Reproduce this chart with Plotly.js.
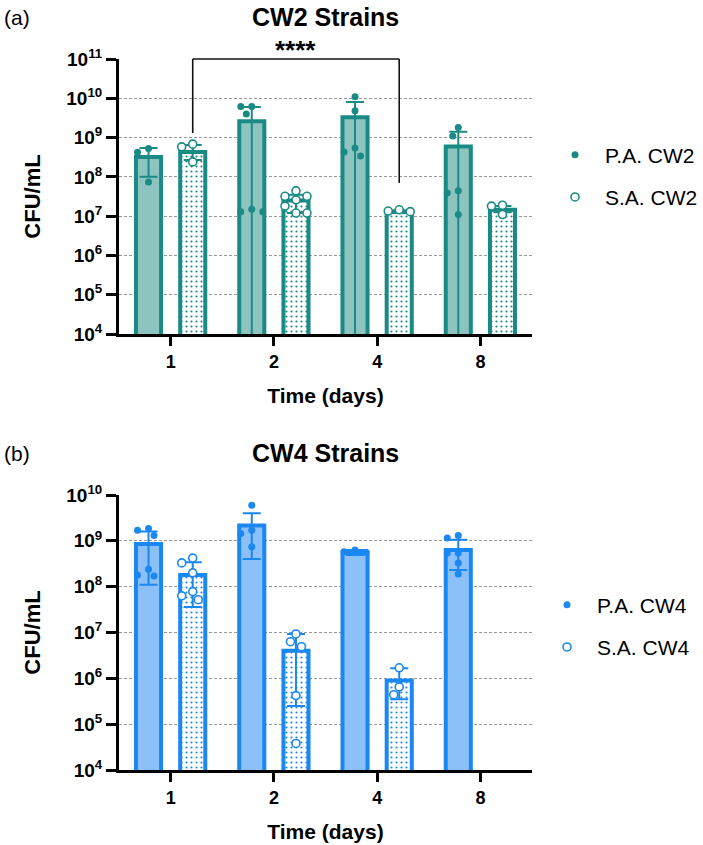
<!DOCTYPE html>
<html>
<head>
<meta charset="utf-8">
<script src="https://cdn.plot.ly/plotly-3.0.1.min.js"></script>
<style>html,body{margin:0;padding:0;background:#fff;}#chart{width:703px;height:845px;}</style>
</head>
<body>
<div id="chart"></div>
<script>
// ---------- DATA ----------
const categories = ['1', '2', '4', '8'];          // Time (days)
const yTickExp = [4, 5, 6, 7, 8, 9, 10, 11];

// Panel (a) CW2 strains
const paCW2Mean  = [3.2e8, 2.6e9, 3.3e9, 5.9e8];
const paCW2Plus  = [2.2e8, 3.4e9, 4.8e9, 8.1e8];
const paCW2Minus = [2.2e8, 3.4e9, 4.8e9, 8.1e8];
const saCW2Mean  = [4.3e8, 2.5e7, 1.3e7, 1.45e7];
const saCW2Plus  = [2.2e8, 1.0e7, 0.1e7, 0.35e7];
const saCW2Minus = [1.6e8, 1.3e7, 0.1e7, 0.2e7];
const paCW2Pts = [
  [5.3e8, 4.2e8, 7.4e7],
  [6.2e9, 6.2e9, 4.0e9, 1.3e7, 1.5e7, 1.3e7],
  [1.1e10, 4.8e9, 5.4e8, 4.3e8, 3.4e8],
  [1.8e9, 1.1e9, 4.4e7, 3.9e7, 1.1e7]
];
const saCW2Pts = [
  [6.8e8, 5.8e8, 2.4e8],
  [4.4e7, 3.2e7, 3.2e7, 2.6e7, 1.8e7, 1.2e7, 1.2e7],
  [1.3e7, 1.45e7, 1.35e7],
  [1.8e7, 1.9e7, 1.1e7]
];
const sigPair = ['1', '4'];
const sigLegEnds = [1.3e9, 7e7];
const sigTop = 1e11;
const sigLabel = '****';

// Panel (b) CW4 strains
const paCW4Mean  = [8.5e8, 2.15e9, 5.5e8, 6.3e8];
const paCW4Plus  = [7.5e8, 1.85e9, 0.8e8, 4.2e8];
const paCW4Minus = [7.4e8, 1.75e9, 0.6e8, 4.0e8];
const saCW4Mean  = [1.8e8, 4.0e6, 9.0e5, null];
const saCW4Plus  = [1.6e8, 5.3e6, 7.6e5, null];
const saCW4Minus = [1.44e8, 3.75e6, 5.5e5, null];
const paCW4Pts = [
  [1.85e9, 1.7e9, 1.3e9, 2.4e8, 1.7e8, 1.8e8],
  [6.0e9, 1.7e9, 1.45e9, 7.4e8],
  [6.3e8, 5.8e8, 5.6e8],
  [1.15e9, 1.3e9, 5.4e8, 5.4e8, 3.3e8, 1.9e8]
];
const saCW4Pts = [
  [4.2e8, 3.3e8, 2.0e8, 7.8e7, 6.3e7, 5.2e7],
  [9.3e6, 4.9e6, 6.3e6, 4.2e5, 3.8e4],
  [1.7e6, 6.5e5, 4.4e5],
  []
];

// ---------- STYLE ----------
const FONT = 'Liberation Sans, Arial, Helvetica, sans-serif';
const TEAL = '#1a8a84', TEAL_FILL = '#8ec4c0';
const BLUE = '#1b87f2', BLUE_FILL = '#8cc0f8';
const GROUP_OFF = 0.214, BAR_W = 0.243;

// page geometry
const L = 119, R = 171, T = 59, B = 75, H = 845 - T - B;
const PX_PER_X = (703 - L - R) / 4;
const TOP_PX_DEC = (334 - 59) / 7, BOT_PX_DEC = (770 - 495) / 6;
const DOT_D = 8.5;   // collision diameter (px)
const py = px => (845 - B - px) / H;           // pixel row -> paper y
const pxX = px => (px - L) / (703 - L - R);      // pixel col -> paper x
const TOP_DOMAIN = [py(334), 1], BOT_DOMAIN = [0, py(495)];

const xIdx = categories.map((c, i) => i);

// deterministic greedy beeswarm placement of points around a bar centre
function spread(vals, center, pxPerDec) {
  const order = vals.map((v, i) => i).sort((a, b) => vals[b] - vals[a]);
  const placed = [];
  const xs = new Array(vals.length);
  const steps = [0];
  for (let s = 1; s <= 8; s++) { steps.push(-s * 5.5, s * 5.5); }
  order.forEach(k => {
    const yk = Math.log10(vals[k]) * pxPerDec;
    for (const dx of steps) {
      const ok = placed.every(p => Math.hypot(p.x - dx, p.y - yk) >= DOT_D);
      if (ok) { placed.push({x: dx, y: yk}); xs[k] = center + dx / PX_PER_X; break; }
    }
  });
  return xs;
}

function pointsTrace(pts, side, color, filled, name, xa, ya, legend, pxPerDec) {
  const x = [], y = [];
  pts.forEach((arr, i) => {
    const xs = spread(arr, xIdx[i] + side * GROUP_OFF, pxPerDec);
    arr.forEach((v, k) => { x.push(xs[k]); y.push(v); });
  });
  return {
    type: 'scatter', mode: 'markers', x, y, name, xaxis: xa, yaxis: ya,
    legend, legendgroup: name, showlegend: true, cliponaxis: false,
    marker: filled ? {symbol: 'circle', size: 7, color: color}
                   : {symbol: 'circle', size: 8, color: 'white', line: {color: color, width: 1.6}},
    hoverinfo: 'x+y'
  };
}

function barTrace(mean, plus, minus, side, color, fill, patterned, xa, ya) {
  return {
    type: 'bar', x: xIdx.map(i => i + side * GROUP_OFF), y: mean, width: BAR_W,
    xaxis: xa, yaxis: ya, showlegend: false,
    marker: {
      color: patterned ? 'white' : fill,
      line: {color: color, width: 4},
      pattern: patterned ? {shape: '.', fgcolor: color, bgcolor: 'white', size: 5, solidity: 0.15, fillmode: 'replace'} : undefined
    },
    error_y: {type: 'data', symmetric: false, array: plus, arrayminus: minus, color: color, thickness: 2, width: 9}
  };
}

const traces = [
  barTrace(paCW2Mean, paCW2Plus, paCW2Minus, -1, TEAL, TEAL_FILL, false, 'x', 'y'),
  barTrace(saCW2Mean, saCW2Plus, saCW2Minus, 1, TEAL, TEAL_FILL, true, 'x', 'y'),
  pointsTrace(paCW2Pts, -1, TEAL, true, 'P.A. CW2', 'x', 'y', 'legend', TOP_PX_DEC),
  pointsTrace(saCW2Pts, 1, TEAL, false, 'S.A. CW2', 'x', 'y', 'legend', TOP_PX_DEC),
  barTrace(paCW4Mean, paCW4Plus, paCW4Minus, -1, BLUE, BLUE_FILL, false, 'x2', 'y2'),
  barTrace(saCW4Mean, saCW4Plus, saCW4Minus, 1, BLUE, BLUE_FILL, true, 'x2', 'y2'),
  pointsTrace(paCW4Pts, -1, BLUE, true, 'P.A. CW4', 'x2', 'y2', 'legend2', BOT_PX_DEC),
  pointsTrace(saCW4Pts, 1, BLUE, false, 'S.A. CW4', 'x2', 'y2', 'legend2', BOT_PX_DEC)
];

// significance bracket (x in data units, y mapped from log value to paper)
const sx1 = categories.indexOf(sigPair[0]) + GROUP_OFF;
const sx2 = categories.indexOf(sigPair[1]) + GROUP_OFF;
const topLogToPaper = v => TOP_DOMAIN[0] + (Math.log10(v) - 4) / 7 * (TOP_DOMAIN[1] - TOP_DOMAIN[0]);
const bracketLine = {color: '#111', width: 1.6};
const shapes = [
  {type: 'line', xref: 'x', yref: 'paper', x0: sx1, x1: sx1, y0: topLogToPaper(sigLegEnds[0]), y1: topLogToPaper(sigTop), line: bracketLine, layer: 'above'},
  {type: 'line', xref: 'x', yref: 'paper', x0: sx1, x1: sx2, y0: topLogToPaper(sigTop), y1: topLogToPaper(sigTop), line: bracketLine, layer: 'above'},
  {type: 'line', xref: 'x', yref: 'paper', x0: sx2, x1: sx2, y0: topLogToPaper(sigTop), y1: topLogToPaper(sigLegEnds[1]), line: bracketLine, layer: 'above'}
];

// ---------- LAYOUT ----------
function xAxis(anchor) {
  return {
    anchor, domain: [0, 1], range: [-0.5, 3.5], tickmode: 'array', tickvals: xIdx, ticktext: categories,
    ticks: 'outside', ticklen: 9, tickwidth: 3, tickcolor: '#000',
    showline: true, linewidth: 3, linecolor: '#000', showgrid: false, zeroline: false,
    tickfont: {family: FONT, size: 18, color: '#000', weight: 'bold'},
    title: {text: 'Time (days)', font: {family: FONT, size: 21, color: '#000', weight: 'bold'}, standoff: 18}
  };
}
function yAxis(anchor, domain, maxExp) {
  const exps = yTickExp.filter(e => e <= maxExp);
  return {
    anchor, domain, type: 'log', range: [4, maxExp],
    tickmode: 'array', tickvals: exps.map(e => Math.pow(10, e)), ticktext: exps.map(e => '10<sup>' + e + '</sup>'),
    ticks: 'outside', ticklen: 10, tickwidth: 3, tickcolor: '#000',
    showline: true, linewidth: 3, linecolor: '#000', zeroline: false,
    showgrid: true, gridcolor: '#9a9a9a', gridwidth: 1, griddash: '3px,2px',
    tickfont: {family: FONT, size: 19, color: '#000', weight: 'bold'},
    title: {text: 'CFU/mL', font: {family: FONT, size: 22, color: '#000', weight: 'bold'}, standoff: 20}
  };
}

const legendBase = {
  xref: 'paper', yref: 'paper', xanchor: 'left', yanchor: 'middle',
  font: {family: FONT, size: 21, color: '#000'}, bgcolor: 'rgba(0,0,0,0)',
  traceorder: 'grouped', tracegroupgap: 12, itemclick: false, itemwidth: 50
};

const layout = {
  width: 703, height: 845, paper_bgcolor: '#fff', plot_bgcolor: '#fff',
  margin: {l: L, r: R, t: T, b: B, autoexpand: false}, barmode: 'overlay', showlegend: true,
  font: {family: FONT, color: '#000'},
  xaxis: xAxis('y'),
  yaxis: yAxis('x', TOP_DOMAIN, 11),
  xaxis2: xAxis('y2'),
  yaxis2: yAxis('x2', BOT_DOMAIN, 10),
  legend: Object.assign({}, legendBase, {x: pxX(545), y: py(176)}),
  legend2: Object.assign({}, legendBase, {x: pxX(537), y: py(626)}),
  shapes,
  annotations: [
    {text: 'CW2 Strains', xref: 'paper', yref: 'paper', x: 0.5, y: py(17), showarrow: false, xanchor: 'center', yanchor: 'middle',
     font: {family: FONT, size: 25, weight: 'bold', color: '#000'}},
    {text: 'CW4 Strains', xref: 'paper', yref: 'paper', x: 0.5, y: py(453), showarrow: false, xanchor: 'center', yanchor: 'middle',
     font: {family: FONT, size: 25, weight: 'bold', color: '#000'}},
    {text: '(a)', xref: 'paper', yref: 'paper', x: pxX(2), y: py(17), showarrow: false, xanchor: 'left', yanchor: 'middle',
     font: {family: FONT, size: 21, color: '#000'}},
    {text: '(b)', xref: 'paper', yref: 'paper', x: pxX(2), y: py(453), showarrow: false, xanchor: 'left', yanchor: 'middle',
     font: {family: FONT, size: 21, color: '#000'}},
    {text: sigLabel, xref: 'x', yref: 'paper', x: (sx1 + sx2) / 2, y: py(50), showarrow: false, xanchor: 'center', yanchor: 'middle',
     font: {family: FONT, size: 26, weight: 'bold', color: '#000'}}
  ]
};

Plotly.newPlot('chart', traces, layout, {displayModeBar: false, staticPlot: true});
</script>
</body>
</html>
